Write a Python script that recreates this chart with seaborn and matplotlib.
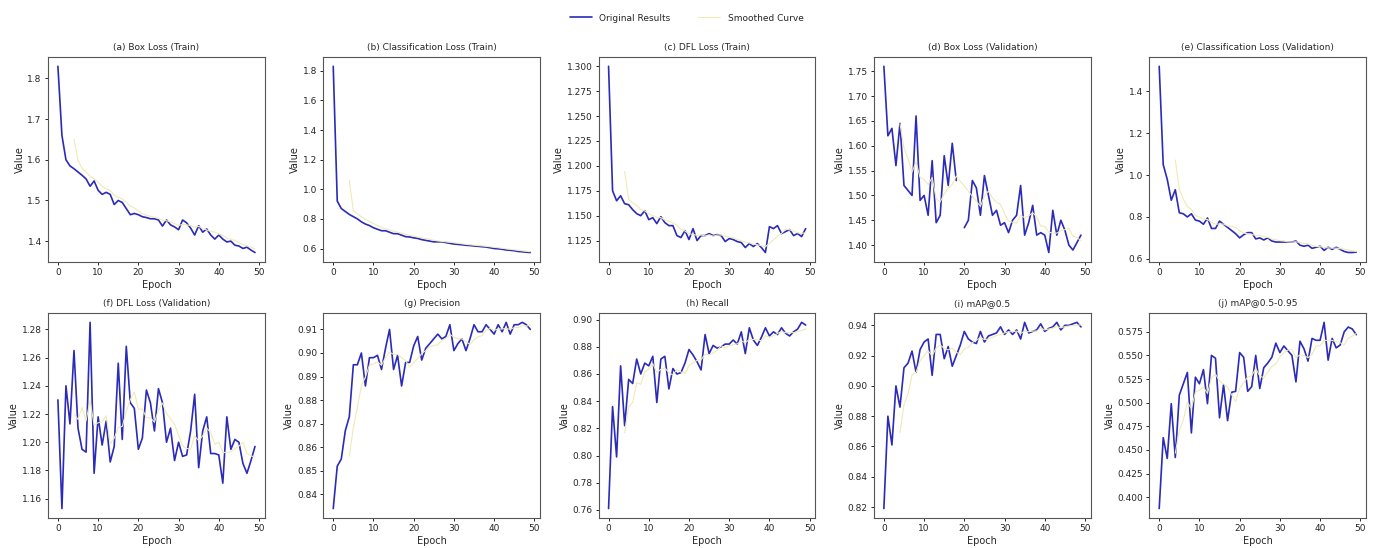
import numpy as np
import pandas as pd
import matplotlib
matplotlib.use('Agg')
import matplotlib.pyplot as plt
import seaborn as sns
from matplotlib.lines import Line2D


epochs = list(range(50))

box_loss_train = [1.83, 1.66, 1.60, 1.585, 1.578, 1.57, 1.562, 1.553, 1.535, 1.548,
                  1.525, 1.515, 1.52, 1.515, 1.49, 1.50, 1.495, 1.48, 1.465, 1.468,
                  1.465, 1.46, 1.458, 1.455, 1.455, 1.452, 1.437, 1.452, 1.44, 1.435,
                  1.428, 1.452, 1.445, 1.432, 1.415, 1.438, 1.422, 1.43, 1.415, 1.405,
                  1.415, 1.405, 1.398, 1.40, 1.39, 1.388, 1.382, 1.385, 1.378, 1.372]

cls_loss_train = [1.83, 0.92, 0.87, 0.85, 0.83, 0.815, 0.80, 0.78, 0.765, 0.755,
                  0.74, 0.73, 0.72, 0.72, 0.71, 0.70, 0.70, 0.69, 0.68, 0.678,
                  0.672, 0.668, 0.66, 0.655, 0.65, 0.645, 0.645, 0.645, 0.64, 0.635,
                  0.63, 0.628, 0.625, 0.622, 0.62, 0.617, 0.615, 0.612, 0.61, 0.605,
                  0.60, 0.598, 0.595, 0.59, 0.588, 0.585, 0.58, 0.578, 0.575, 0.573]

dfl_loss_train = [1.300, 1.175, 1.165, 1.170, 1.162, 1.161, 1.156, 1.152, 1.150, 1.155,
                  1.146, 1.148, 1.142, 1.149, 1.143, 1.140, 1.140, 1.130, 1.128, 1.135,
                  1.126, 1.137, 1.125, 1.130, 1.130, 1.132, 1.130, 1.131, 1.130, 1.124,
                  1.127, 1.126, 1.124, 1.123, 1.118, 1.122, 1.119, 1.122, 1.118, 1.113,
                  1.139, 1.137, 1.140, 1.132, 1.134, 1.136, 1.130, 1.132, 1.129, 1.137]

# epoch 19 is missing in the validation box loss (gap in the line)
box_loss_val = [1.76, 1.62, 1.635, 1.56, 1.645, 1.52, 1.51, 1.50, 1.66, 1.49,
                1.50, 1.46, 1.57, 1.445, 1.46, 1.58, 1.52, 1.605, 1.53, np.nan,
                1.435, 1.45, 1.53, 1.515, 1.46, 1.54, 1.50, 1.46, 1.47, 1.44,
                1.445, 1.425, 1.45, 1.46, 1.52, 1.42, 1.445, 1.48, 1.42, 1.425,
                1.42, 1.385, 1.47, 1.42, 1.45, 1.43, 1.40, 1.39, 1.405, 1.42]

cls_loss_val = [1.52, 1.05, 0.98, 0.88, 0.93, 0.82, 0.815, 0.80, 0.815, 0.785,
                0.78, 0.765, 0.795, 0.745, 0.745, 0.78, 0.765, 0.75, 0.735, 0.72,
                0.70, 0.715, 0.725, 0.725, 0.695, 0.70, 0.69, 0.70, 0.685, 0.68,
                0.68, 0.68, 0.68, 0.68, 0.685, 0.665, 0.66, 0.665, 0.65, 0.655,
                0.66, 0.64, 0.655, 0.645, 0.655, 0.645, 0.635, 0.63, 0.63, 0.632]

dfl_loss_val = [1.23, 1.153, 1.24, 1.213, 1.265, 1.21, 1.195, 1.193, 1.285, 1.178,
                1.218, 1.198, 1.215, 1.186, 1.197, 1.256, 1.202, 1.268, 1.228, 1.224,
                1.195, 1.203, 1.237, 1.228, 1.208, 1.238, 1.228, 1.200, 1.210, 1.187,
                1.200, 1.190, 1.191, 1.208, 1.234, 1.182, 1.208, 1.218, 1.192, 1.192,
                1.191, 1.171, 1.218, 1.195, 1.202, 1.200, 1.185, 1.178, 1.187, 1.197]

precision = [0.834, 0.852, 0.855, 0.867, 0.873, 0.895, 0.895, 0.900, 0.886, 0.898,
             0.898, 0.899, 0.893, 0.902, 0.910, 0.893, 0.899, 0.886, 0.896, 0.896,
             0.903, 0.907, 0.897, 0.902, 0.904, 0.906, 0.908, 0.906, 0.907, 0.912,
             0.901, 0.904, 0.906, 0.901, 0.906, 0.912, 0.909, 0.909, 0.912, 0.910,
             0.908, 0.912, 0.909, 0.913, 0.908, 0.912, 0.912, 0.913, 0.912, 0.910]

recall = [0.761, 0.836, 0.799, 0.866, 0.822, 0.856, 0.853, 0.871, 0.860, 0.868,
          0.866, 0.873, 0.839, 0.871, 0.873, 0.849, 0.864, 0.860, 0.861, 0.868,
          0.878, 0.874, 0.869, 0.863, 0.889, 0.875, 0.881, 0.879, 0.880, 0.882,
          0.882, 0.885, 0.882, 0.891, 0.875, 0.894, 0.885, 0.881, 0.887, 0.894,
          0.888, 0.891, 0.889, 0.894, 0.890, 0.888, 0.891, 0.893, 0.898, 0.896]

map50 = [0.819, 0.880, 0.861, 0.900, 0.886, 0.912, 0.915, 0.923, 0.909, 0.924,
         0.929, 0.931, 0.907, 0.934, 0.934, 0.918, 0.926, 0.913, 0.920, 0.927,
         0.936, 0.931, 0.929, 0.928, 0.936, 0.929, 0.933, 0.934, 0.935, 0.939,
         0.934, 0.937, 0.934, 0.937, 0.931, 0.942, 0.935, 0.936, 0.937, 0.941,
         0.936, 0.938, 0.939, 0.942, 0.937, 0.940, 0.940, 0.941, 0.942, 0.939]

map50_95 = [0.388, 0.463, 0.441, 0.499, 0.442, 0.508, 0.520, 0.532, 0.468, 0.527,
            0.520, 0.535, 0.499, 0.550, 0.547, 0.484, 0.519, 0.481, 0.511, 0.512,
            0.553, 0.548, 0.512, 0.517, 0.550, 0.515, 0.537, 0.542, 0.548, 0.563,
            0.553, 0.560, 0.555, 0.550, 0.522, 0.565, 0.557, 0.544, 0.568, 0.566,
            0.566, 0.585, 0.545, 0.568, 0.558, 0.561, 0.575, 0.580, 0.578, 0.572]

titles = ['(a) Box Loss (Train)', '(b) Classification Loss (Train)', '(c) DFL Loss (Train)',
          '(d) Box Loss (Validation)', '(e) Classification Loss (Validation)',
          '(f) DFL Loss (Validation)', '(g) Precision', '(h) Recall',
          '(i) mAP@0.5', '(j) mAP@0.5-0.95']

series = [box_loss_train, cls_loss_train, dfl_loss_train, box_loss_val, cls_loss_val,
          dfl_loss_val, precision, recall, map50, map50_95]

orig_color = '#2b2bb8'
smooth_color = '#efeab5'

sns.set_theme(style='ticks')
plt.rcParams.update({
    'font.family': ['DejaVu Sans'],
    'font.size': 6.5,
    'axes.titlesize': 6.5,
    'axes.labelsize': 7,
    'xtick.labelsize': 6.5,
    'ytick.labelsize': 6.5,
    'axes.edgecolor': '#555555',
    'axes.linewidth': 0.8,
    'xtick.major.size': 2.5,
    'ytick.major.size': 2.5,
    'xtick.major.width': 0.7,
    'ytick.major.width': 0.7,
})

fig, axes = plt.subplots(2, 5, figsize=(13.73, 5.48), dpi=100)
fig.subplots_adjust(left=0.035, right=0.995, top=0.896, bottom=0.055,
                    wspace=0.27, hspace=0.25)

for ax, title, values in zip(axes.flatten(), titles, series):
    df = pd.DataFrame({'Epoch': epochs, 'Value': values})
    # скользящее среднее по 5 эпохам
    df['Smoothed'] = df['Value'].rolling(5).mean()

    # разбиваем на сегменты, чтобы пропуск остался разрывом линии
    valid = df['Value'].notna()
    seg = (~valid).cumsum()
    for _, part in df[valid].groupby(seg[valid]):
        sns.lineplot(data=part, x='Epoch', y='Value', ax=ax, color=orig_color,
                     linewidth=1.2, estimator=None)
    sm = df[df['Smoothed'].notna()]
    sns.lineplot(data=sm, x='Epoch', y='Smoothed', ax=ax, color=smooth_color,
                 linewidth=0.8, estimator=None)

    ax.set_title(title, pad=5)
    ax.set_xlabel('Epoch', labelpad=2)
    ax.set_ylabel('Value', labelpad=2)
    ax.set_xticks([0, 10, 20, 30, 40, 50])
    ax.tick_params(pad=2)

handles = [Line2D([0], [0], color=orig_color, linewidth=1.2),
           Line2D([0], [0], color=smooth_color, linewidth=0.8)]
fig.legend(handles, ['Original Results', 'Smoothed Curve'], loc='upper center',
           ncol=2, frameon=False, fontsize=6.5, bbox_to_anchor=(0.5, 0.99),
           columnspacing=3.0, handlelength=2.5)

fig.savefig('out.png', dpi=100)
